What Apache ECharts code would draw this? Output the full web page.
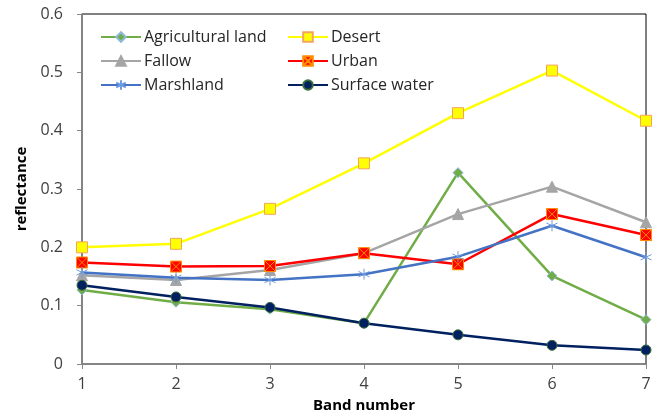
<!DOCTYPE html>
<html>
<head>
<meta charset="utf-8">
<script src="https://cdn.jsdelivr.net/npm/echarts@6/dist/echarts.min.js"></script>
<style>
  html, body { margin: 0; padding: 0; background: #fff; }
  #chart { width: 660px; height: 415px; }
</style>
</head>
<body>
<div id="chart"></div>
<script>
// band numbers on the x axis
const bands = [1, 2, 3, 4, 5, 6, 7];

// reflectance per class
const agricultural = [0.127, 0.106, 0.094, 0.070, 0.328, 0.151, 0.076];
const desert       = [0.200, 0.206, 0.266, 0.344, 0.430, 0.503, 0.417];
const fallow       = [0.152, 0.144, 0.161, 0.190, 0.257, 0.304, 0.243];
const urban        = [0.174, 0.167, 0.168, 0.190, 0.171, 0.257, 0.221];
const marshland    = [0.157, 0.148, 0.144, 0.154, 0.184, 0.237, 0.183];
const water        = [0.135, 0.115, 0.097, 0.070, 0.050, 0.032, 0.024];

const FONT = 'Open Sans';
const ASTERISK = 'path://M5,0L5,10M0.7,2.5L9.3,7.5M0.7,7.5L9.3,2.5';
const BOXCROSS = 'path://M0,0L10,0L10,10L0,10ZM0,0L10,10M10,0L0,10';

const chart = echarts.init(document.getElementById('chart'));

function pts(arr) {
  return arr.map((v, i) => [bands[i], v]);
}

function mk(name, data, color, symbol, size, fill, border) {
  return {
    name,
    type: 'line',
    data: pts(data),
    symbol,
    symbolSize: size,
    lineStyle: { color, width: 2.5 },
    itemStyle: { color: fill, borderColor: border, borderWidth: 1 },
    emphasis: { disabled: true },
    z: 3,
  };
}

const legendText = { color: '#262626', fontSize: 16, fontFamily: FONT, lineHeight: 16, padding: [0, 0, 0, -2] };

chart.setOption({
  animation: false,
  backgroundColor: '#fff',
  grid: {
    left: 82, right: 14, top: 14, bottom: 51,
    outerBoundsMode: 'none', containLabel: false,
    show: true, borderColor: '#000', borderWidth: 1,
  },
  legend: [
    {
      left: 95, top: 24, orient: 'vertical', itemGap: 8, itemWidth: 40, itemHeight: 12,
      data: ['Agricultural land', 'Fallow', 'Marshland'], textStyle: legendText,
    },
    {
      left: 282, top: 24, orient: 'vertical', itemGap: 8, itemWidth: 40, itemHeight: 12,
      data: ['Desert', 'Urban', 'Surface water'], textStyle: legendText,
    },
  ],
  xAxis: {
    type: 'value', min: 1, max: 7, interval: 1,
    name: 'Band number', nameLocation: 'middle', nameGap: 34,
    nameTextStyle: { color: '#000', fontSize: 15, fontWeight: 'bold', fontFamily: FONT },
    axisLine: { show: true, lineStyle: { color: '#868686', width: 1.5 } },
    axisTick: { show: true, length: 5, lineStyle: { color: '#868686' } },
    axisLabel: { color: '#404040', fontSize: 16, fontFamily: FONT, margin: 12 },
    splitLine: { show: false },
  },
  yAxis: {
    type: 'value', min: 0, max: 0.6, interval: 0.1,
    name: 'reflectance', nameLocation: 'middle', nameGap: 52,
    nameTextStyle: { color: '#000', fontSize: 15, fontWeight: 'bold', fontFamily: FONT },
    axisLine: { show: true, lineStyle: { color: '#868686', width: 1.5 } },
    axisTick: { show: true, length: 5, lineStyle: { color: '#868686' } },
    axisLabel: { color: '#404040', fontSize: 16, fontFamily: FONT, margin: 19,
      formatter: v => (Math.round(v * 10) / 10).toString() },
    splitLine: { show: false },
  },
  series: [
    mk('Agricultural land', agricultural, '#70AD47', 'diamond', 10, '#70AD47', '#8FB8D8'),
    mk('Desert', desert, '#FFFF00', 'rect', 11, '#FFFF00', '#F4A460'),
    mk('Fallow', fallow, '#A5A5A5', 'triangle', 11, '#A5A5A5', '#A5A5A5'),
    mk('Urban', urban, '#FF0000', BOXCROSS, 11, '#FF0000', '#FF8C00'),
    mk('Marshland', marshland, '#4472C4', ASTERISK, 11, 'none', '#6C9BE0'),
    mk('Surface water', water, '#002060', 'circle', 10, '#002060', '#3C6E3C'),
  ],
});
</script>
</body>
</html>
